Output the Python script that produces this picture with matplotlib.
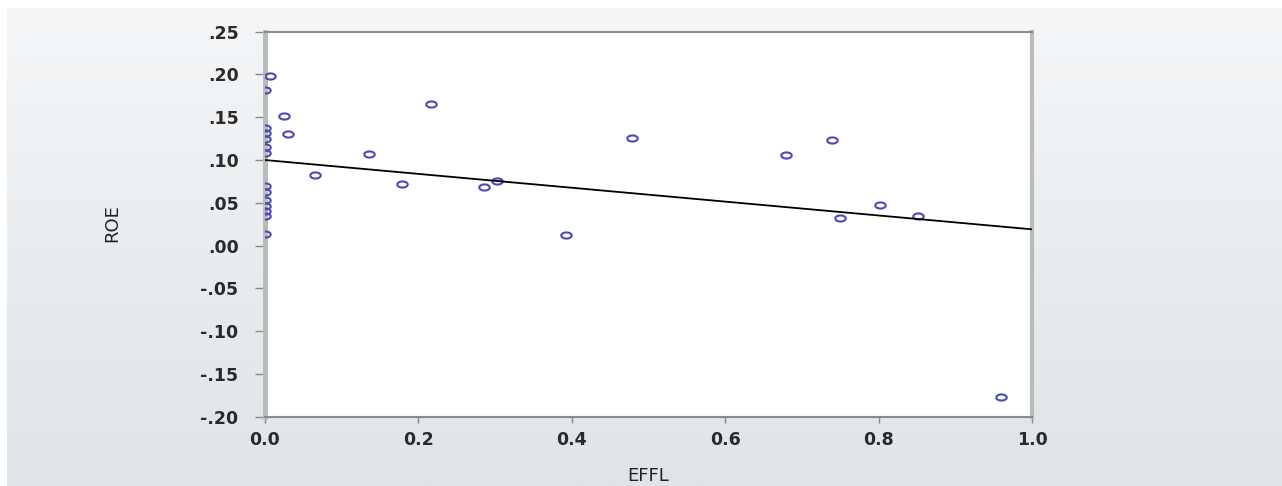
import numpy as np
import matplotlib
matplotlib.use("Agg")
import matplotlib.pyplot as plt
from matplotlib.path import Path
from matplotlib.ticker import FixedLocator, FixedFormatter

# Observations: EFFL (x) and ROE (y)
effl = [0.0, 0.0, 0.0, 0.0, 0.0, 0.0, 0.0, 0.0, 0.0, 0.0, 0.0, 0.0, 0.0,
        0.007, 0.025, 0.030, 0.065, 0.135, 0.178, 0.217, 0.286, 0.303,
        0.392, 0.479, 0.679, 0.739, 0.750, 0.802, 0.852, 0.960]
roe = [0.182, 0.138, 0.132, 0.125, 0.115, 0.108, 0.070, 0.063, 0.053,
       0.046, 0.040, 0.035, 0.013,
       0.198, 0.152, 0.131, 0.083, 0.107, 0.072, 0.165, 0.068, 0.076,
       0.012, 0.126, 0.106, 0.123, 0.032, 0.048, 0.034, -0.177]

# Fitted regression line ROE = a + b * EFFL
fit_intercept = 0.100
fit_slope = -0.081

x_ticks = [0.0, 0.2, 0.4, 0.6, 0.8, 1.0]
x_tick_labels = ["0.0", "0.2", "0.4", "0.6", "0.8", "1.0"]
y_ticks = [0.25, 0.20, 0.15, 0.10, 0.05, 0.00, -0.05, -0.10, -0.15, -0.20]
y_tick_labels = [".25", ".20", ".15", ".10", ".05", ".00",
                 "-.05", "-.10", "-.15", "-.20"]

W, H = 1282, 486
fig = plt.figure(figsize=(W / 100, H / 100), dpi=100)
fig.patch.set_facecolor("white")

# Soft grey backdrop behind the chart
bg = fig.add_axes([7 / W, 0, 1 - 7 / W, 1 - 8 / H], zorder=-5)
grad = np.linspace(0, 1, 256)[:, None, None]
top_c = np.array([0xf4, 0xf6, 0xf8]) / 255
bot_c = np.array([0xe0, 0xe4, 0xe6]) / 255
img = top_c + (bot_c - top_c) * grad
bg.imshow(img, aspect="auto", extent=[0, 1, 0, 1])
bg.axis("off")

ax = fig.add_axes([265 / W, 1 - 416.7 / H, (1032 - 265) / W, (416.7 - 31.7) / H])
ax.set_facecolor("white")

# Flattened open-circle marker
t = np.linspace(0, 2 * np.pi, 64)
ellipse = Path(np.column_stack([1.7 * np.cos(t), np.sin(t)]), closed=True)

pts, = ax.plot(effl, roe, linestyle="none", marker=ellipse, markersize=7.5,
               markerfacecolor="none", markeredgecolor="#4c48b8",
               markeredgewidth=1.5, zorder=3)
pts.set_clip_path(ax.patch)

xs = np.array([0.0, 1.0])
ax.plot(xs, fit_intercept + fit_slope * xs, color="black", lw=1.3, zorder=4)

ax.set_xlim(0, 1)
ax.set_ylim(-0.20, 0.25)

ax.xaxis.set_major_locator(FixedLocator(x_ticks))
ax.xaxis.set_major_formatter(FixedFormatter(x_tick_labels))
ax.yaxis.set_major_locator(FixedLocator(y_ticks))
ax.yaxis.set_major_formatter(FixedFormatter(y_tick_labels))

ax.tick_params(axis="y", direction="out", length=7, width=1, color="#8a8a8a",
               pad=12, labelsize=12.5, labelcolor="#2a2a2a")
ax.tick_params(axis="x", direction="out", length=4, width=1, color="#8a8a8a",
               pad=6, labelsize=12.5, labelcolor="#2a2a2a")
for lab in ax.get_xticklabels() + ax.get_yticklabels():
    lab.set_fontweight("bold")

ax.spines["left"].set_color("#b4bcbc")
ax.spines["left"].set_linewidth(3.5)
ax.spines["right"].set_color("#b8bcbc")
ax.spines["right"].set_linewidth(3.0)
ax.spines["top"].set_color("#8c8c8c")
ax.spines["top"].set_linewidth(1.5)
ax.spines["bottom"].set_color("#8a8a8a")
ax.spines["bottom"].set_linewidth(1.5)
for sp in ax.spines.values():
    sp.set_zorder(2)

fig.text(112 / W, 1 - 223 / H, "ROE", rotation=90, ha="center", va="center",
         fontsize=13, color="#222222")
fig.text(648 / W, 1 - 485 / H, "EFFL", ha="center", va="bottom",
         fontsize=13, color="#222222")

fig.savefig("out.png", dpi=100)
